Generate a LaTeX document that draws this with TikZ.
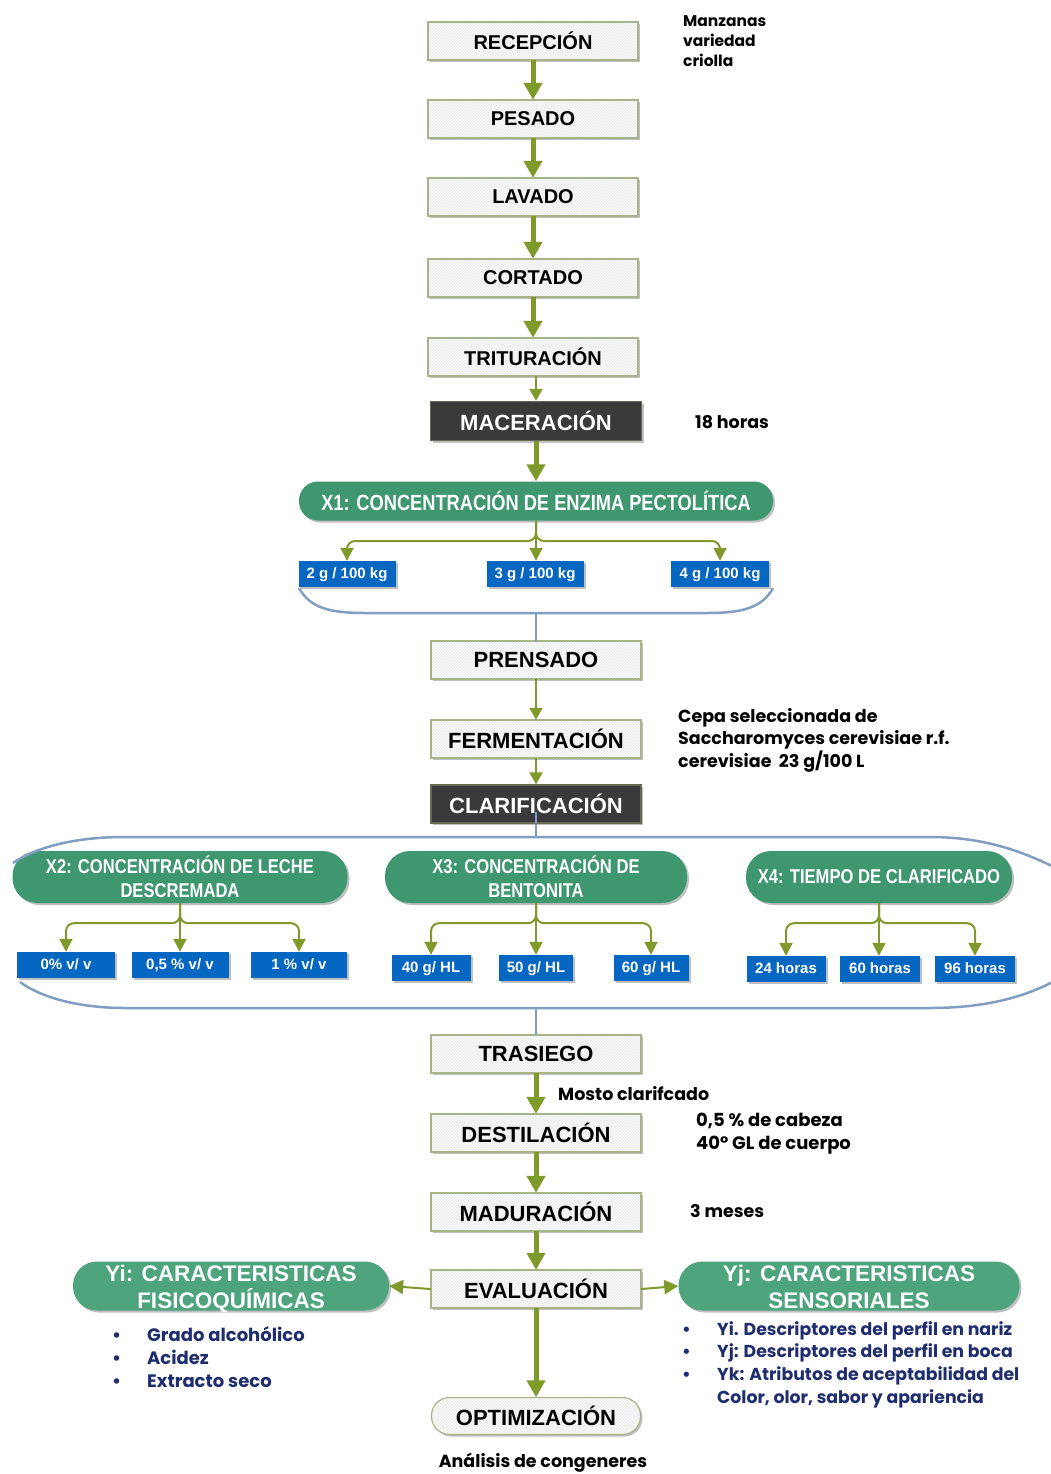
\documentclass[tikz,border=0pt]{standalone}
\usepackage{fontspec}
\setmainfont{Liberation Sans}
\newfontfamily\narrowf[FakeStretch=0.83]{Liberation Sans}
\newfontfamily\gothf{Poppins}
\usetikzlibrary{arrows.meta,shadows,patterns,calc}
\definecolor{olivec}{HTML}{7F9A2B}
\definecolor{boxfill}{HTML}{EEEEEE}
\definecolor{boxline}{HTML}{A8B38A}
\definecolor{darkbox}{HTML}{3A3A3A}
\definecolor{greenn}{HTML}{3F9770}
\definecolor{greeny}{HTML}{4EA47D}
\definecolor{bluebox}{HTML}{0567C2}
\definecolor{steel}{HTML}{819DC2}
\definecolor{navy}{HTML}{1F2D6E}
\tikzset{
  shd/.style={drop shadow={shadow xshift=2pt,shadow yshift=-2pt,fill=black,opacity=.25}},
  proc/.style={shd,fill=boxfill,minimum width=210pt,minimum height=38pt,inner sep=0pt,
    font=\bfseries\fontsize{20}{22}\selectfont,postaction={pattern=north east lines,pattern color=white},
    postaction={draw=boxline,line width=1.2pt}},
  procb/.style={proc,font=\bfseries\fontsize{22}{24}\selectfont},
  darkp/.style={shd,draw=boxline!60!black,line width=1.2pt,fill=darkbox,text=white,minimum width=210pt,minimum height=38pt,inner sep=0pt,
    font=\bfseries\fontsize{22}{24}\selectfont},
  factor/.style={shd,fill=greenn,text=white,inner sep=0pt,align=center,font=\narrowf\bfseries\fontsize{20}{24}\selectfont},
  ynode/.style={shd,fill=greeny,inner sep=0pt,minimum height=49pt,rounded corners=24pt},
  ytext/.style={text=white,inner sep=0pt,align=center,font=\bfseries\fontsize{22.5}{27}\selectfont},
  level/.style={shd,fill=bluebox,text=white,inner sep=0pt,minimum height=26pt,text depth=1pt,font=\bfseries\fontsize{15}{16}\selectfont},
  bigarr/.style={draw=olivec,line width=5pt,-{Triangle[width=18pt,length=17pt]}},
  thinarr/.style={draw=olivec,line width=2pt,-{Triangle[width=13pt,length=12pt]}},
  brarr/.style={draw=olivec,line width=2pt,rounded corners=8pt,-{Triangle[width=13pt,length=13pt]}},
  steelline/.style={draw=steel,line width=2.5pt},
  note/.style={anchor=west,align=left,inner sep=0pt,font=\gothf\bfseries\fontsize{15}{22}\selectfont},
  bul/.style={anchor=north west,align=left,inner sep=0pt,text=navy}
}
\begin{document}
\begin{tikzpicture}[x=1pt,y=-1pt]
\useasboundingbox (0,0) rectangle (1051,1474);
% main column
\node[proc] (rec) at (533,41) {RECEPCIÓN};
\node[proc] (pes) at (533,119) {PESADO};
\node[proc] (lav) at (533,197) {LAVADO};
\node[proc] (cor) at (533,278) {CORTADO};
\node[proc] (tri) at (533,357) {TRITURACIÓN};
\node[darkp,minimum width=211pt,minimum height=39pt] (mac) at (536,421) {MACERACIÓN};
\node[factor,minimum width=474pt,minimum height=39pt,rounded corners=19pt,font=\narrowf\bfseries\fontsize{22}{24}\selectfont] (x1) at (536,501) {X1: CONCENTRACIÓN DE ENZIMA PECTOLÍTICA};
\node[level,minimum width=97pt] (a1) at (347,574) {2 g / 100 kg};
\node[level,minimum width=97pt] (a2) at (535,574) {3 g / 100 kg};
\node[level,minimum width=98pt] (a3) at (720,574) {4 g / 100 kg};
\node[procb] (pre) at (536,660) {PRENSADO};
\node[procb] (fer) at (536,739) {FERMENTACIÓN};
\node[darkp] (cla) at (536,804) {CLARIFICACIÓN};
% factors
\node[factor,minimum width=335pt,minimum height=52pt,rounded corners=25pt] (x2) at (180,877) {X2: CONCENTRACIÓN DE LECHE\\DESCREMADA};
\node[factor,minimum width=302pt,minimum height=52pt,rounded corners=25pt] (x3) at (536,877) {X3: CONCENTRACIÓN DE\\BENTONITA};
\node[factor,minimum width=266pt,minimum height=52pt,rounded corners=25pt] (x4) at (879,877) {X4: TIEMPO DE CLARIFICADO};
\node[level,minimum width=98pt] (b1) at (66,965) {0\% v/ v};
\node[level,minimum width=97pt] (b2) at (180,965) {0,5 \% v/ v};
\node[level,minimum width=96pt] (b3) at (299,965) {1 \% v/ v};
\node[level,minimum width=79pt] (c1) at (431,968) {40 g/ HL};
\node[level,minimum width=74pt] (c2) at (536,968) {50 g/ HL};
\node[level,minimum width=75pt] (c3) at (651,968) {60 g/ HL};
\node[level,minimum width=79pt] (d1) at (786,969) {24 horas};
\node[level,minimum width=80pt] (d2) at (880,969) {60 horas};
\node[level,minimum width=80pt] (d3) at (975,969) {96 horas};
\node[procb] (tra) at (536,1054) {TRASIEGO};
\node[procb] (des) at (536,1133) {DESTILACIÓN};
\node[procb] (mad) at (536,1212) {MADURACIÓN};
\node[procb] (eva) at (536,1289) {EVALUACIÓN};
\node[procb,rounded corners=18pt,minimum width=209pt,minimum height=37pt] (opt) at (536,1416) {OPTIMIZACIÓN};
\node[ynode,minimum width=316pt] (yi) at (231,1286) {};
\node[ytext] (yit) at ([yshift=-3pt]yi.center) {Yi: CARACTERISTICAS\\FISICOQUÍMICAS};
\node[ynode,minimum width=341pt] (yj) at (849,1286) {};
\node[ytext] (yjt) at ([yshift=-0.5pt]yj.center) {Yj: CARACTERISTICAS\\SENSORIALES};
% notes
\node[note,font=\gothf\bfseries\fontsize{15.5}{20}\selectfont] (n1) at (683,41) {Manzanas\\variedad\\criolla};
\node[note,font=\gothf\bfseries\fontsize{17.5}{22}\selectfont] (n2) at (695,422) {18 horas};
\node[note,font=\gothf\bfseries\fontsize{17.5}{22.5}\selectfont] (n3) at (678,740) {Cepa seleccionada de\\Saccharomyces cerevisiae r.f.\\cerevisiae\ \ 23 g/100 L};
\node[note,font=\gothf\bfseries\fontsize{17.5}{22}\selectfont] (n4) at (558,1094) {Mosto clarifcado};
\node[note,font=\gothf\bfseries\fontsize{18}{23}\selectfont] (n5) at (696,1134) {0,5 \% de cabeza\\40º GL de cuerpo};
\node[note,font=\gothf\bfseries\fontsize{17.5}{22}\selectfont] (n6) at (690,1211) {3 meses};
\node[anchor=center,inner sep=0pt,font=\gothf\bfseries\fontsize{17.5}{22}\selectfont] (n7) at (543,1463) {Análisis de congeneres};
\node[bul,font=\gothf\bfseries\fontsize{18}{23}\selectfont] (l1) at (112,1326) {\makebox[35pt][l]{•}Grado alcohólico\\\makebox[35pt][l]{•}Acidez\\\makebox[35pt][l]{•}Extracto seco};
\node[bul,font=\gothf\bfseries\fontsize{17.3}{22.7}\selectfont] (l2) at (682,1321) {\makebox[35pt][l]{•}Yi. Descriptores del perfil en nariz\\\makebox[35pt][l]{•}Yj: Descriptores del perfil en boca\\\makebox[35pt][l]{•}Yk: Atributos de aceptabilidad del\\\makebox[35pt][l]{}Color, olor, sabor y apariencia};
% arrows
\draw[bigarr] (rec) -- (pes);
\draw[bigarr] (pes) -- (lav);
\draw[bigarr] (lav) -- (cor);
\draw[bigarr] (cor) -- (tri);
\draw[thinarr] (tri.south -| mac.north) -- (mac.north);
\draw[bigarr] (mac) -- (x1);
\draw[brarr] (x1.south) -- (536,541) -| (a1.north);
\draw[brarr] (x1.south) -- (536,541) -| (a3.north);
\draw[brarr] (x1.south) -- (a2.north -| x1.south);
\draw[thinarr] (pre) -- (fer);
\draw[thinarr] (fer) -- (cla);
\foreach \p/\ch in {x2/b1,x2/b3,x3/c1,x3/c3,x4/d1,x4/d3}{
  \draw[brarr] (\p.south) -- ($(\p.south)+(0,20)$) -| (\ch.north);
}
\draw[brarr] (x2.south) -- (b2.north -| x2.south);
\draw[brarr] (x3.south) -- (c2.north -| x3.south);
\draw[brarr] (x4.south) -- (d2.north -| x4.south);
\draw[bigarr] (tra) -- (des);
\draw[bigarr] (des) -- (mad);
\draw[bigarr] (mad) -- (eva);
\draw[bigarr] (eva) -- (opt);
\draw[thinarr,-{Triangle[width=14pt,length=14pt]}] (eva.west) -- (yi.east);
\draw[thinarr,-{Triangle[width=14pt,length=14pt]}] (eva.east) -- (yj.west);
% brackets
\coordinate (k1) at (536,613);
\draw[steelline] (299,588) .. controls (310,608) and (330,613) .. (365,613) -- (707,613) .. controls (742,613) and (762,608) .. (773,588);
\draw[steelline] (k1) -- (pre.north);
\coordinate (k2) at (536,837);
\coordinate (k3) at (536,1008);
\draw[steelline] (13,863) .. controls (40,845) and (80,837) .. (125,837) -- (930,837) .. controls (990,837) and (1030,855) .. (1060,870);
\draw[steelline] (20,982) .. controls (45,1000) and (85,1008) .. (125,1008) -- (930,1008) .. controls (990,1008) and (1030,995) .. (1060,978);
\draw[steelline] ([yshift=12pt]cla.south) -- (k2);
\draw[steelline] (k3) -- (tra.north);
\end{tikzpicture}
\end{document}
